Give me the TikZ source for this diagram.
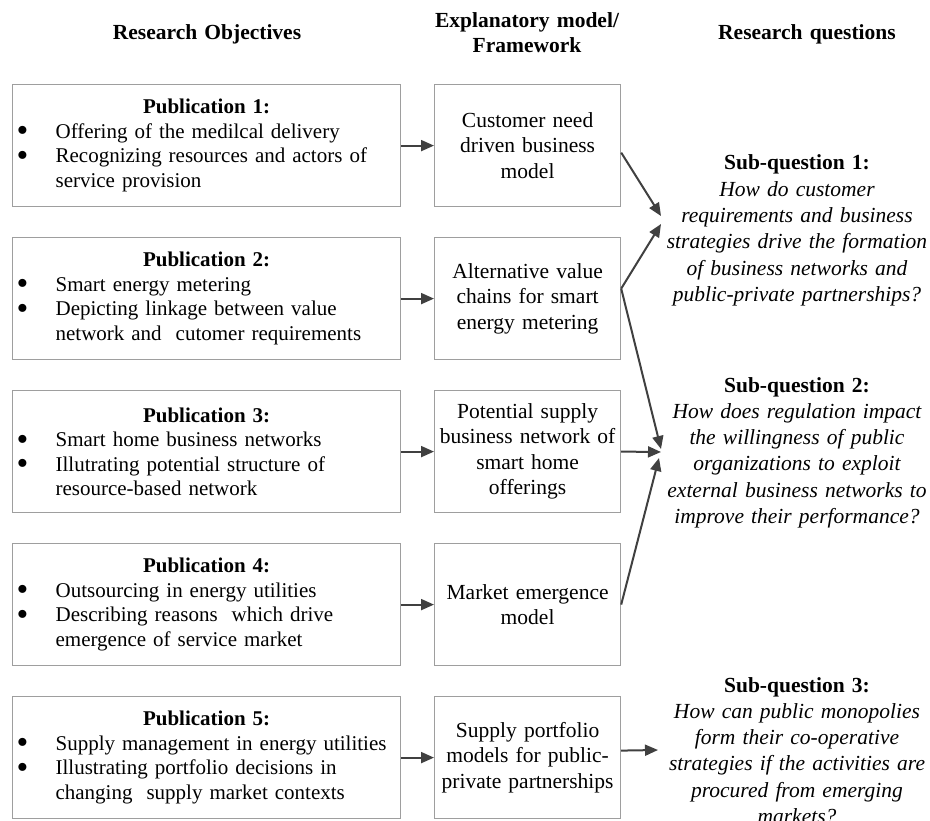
\documentclass[tikz,border=0pt]{standalone}
\usepackage{fontspec}
\setmainfont{Liberation Serif}
\usetikzlibrary{arrows.meta}

% bullet line with a hanging indent for the objective boxes
\newcommand\objbullet{\smash{\raisebox{-0.17em}{\scalebox{1.6}{\textbullet}}}}
\newcommand\objitem[1]{\par\noindent\makebox[39pt][l]{\objbullet}%
  \parbox[t]{341pt}{\raggedright #1}}
\newcommand\objtitle[1]{{\centering\bfseries #1\par}}

\tikzset{
  pubbox/.style={draw=black!38, line width=1.2pt, anchor=north west,
    minimum width=388pt, minimum height=122pt, inner xsep=4pt, inner ysep=0pt,
    text width=380pt, align=left, font=\fontsize{21}{24.5}\selectfont},
  modelbox/.style={draw=black!38, line width=1.2pt, anchor=north west,
    minimum width=186pt, minimum height=122pt, inner sep=0pt,
    text width=180pt, align=center, font=\fontsize{21.5}{25.5}\selectfont},
  head/.style={anchor=base, text width=260pt, align=center, inner sep=0pt,
    font=\fontsize{21.5}{25}\selectfont\bfseries},
  question/.style={anchor=base, text width=290pt, align=center, inner sep=0pt,
    font=\fontsize{21.5}{26.3}\selectfont\itshape},
  link/.style={draw=black!75, line width=2pt,
    -{Triangle[length=13pt,width=11pt]}},
}

\begin{document}
\begin{tikzpicture}[x=1pt, y=-1pt]
\useasboundingbox (0,0) rectangle (930,821);

% column headings
\node[head] (hobj) at (207,40) {Research Objectives};
\node[head] (hmod) at (527,28) {Explanatory model/\\Framework};
\node[head] (hque) at (807,40) {Research questions};

% research objectives
\node[pubbox] (p1) at (12,84) {\objtitle{Publication 1:}
  \objitem{Offering of the medilcal delivery}
  \objitem{Recognizing resources and actors of\\service provision}};
\node[pubbox] (p2) at (12,237) {\objtitle{Publication 2:}
  \objitem{Smart energy metering}
  \objitem{Depicting linkage between value\\network and\ \ cutomer requirements}};
\node[pubbox] (p3) at (12,390) {\objtitle{Publication 3:}
  \objitem{Smart home business networks}
  \objitem{Illutrating potential structure of\\resource-based network}};
\node[pubbox] (p4) at (12,543) {\objtitle{Publication 4:}
  \objitem{Outsourcing in energy utilities}
  \objitem{Describing reasons\ \ which drive\\emergence of service market}};
\node[pubbox] (p5) at (12,696) {\objtitle{Publication 5:}
  \objitem{Supply management in energy utilities}
  \objitem{Illustrating portfolio decisions in\\changing\ \ supply market contexts}};

% explanatory models
\node[modelbox] (m1) at (434,84) {Customer need\\driven business\\model};
\node[modelbox] (m2) at (434,237) {Alternative value\\chains for smart\\energy metering};
\node[modelbox] (m3) at (434,390) {Potential supply\\business network of\\smart home\\offerings};
\node[modelbox] (m4) at (434,543) {Market emergence\\model};
\node[modelbox] (m5) at (434,696) {Supply portfolio\\models for public-\\private partnerships};

% research questions
\node[question] (q1) at (797,170) {{\upshape\bfseries Sub-question 1:}\\How do customer\\requirements and business\\strategies drive the formation\\of business networks and\\public-private partnerships?};
\node[question] (q2) at (797,392) {{\upshape\bfseries Sub-question 2:}\\How does regulation impact\\the willingness of public\\organizations to exploit\\external business networks to\\improve their performance?};
\node[question] (q3) at (797,692) {{\upshape\bfseries Sub-question 3:}\\How can public monopolies\\form their co-operative\\strategies if the activities are\\procured from emerging\\markets?};

% meeting points of the connectors
\coordinate (j1a) at (661,216);
\coordinate (j1b) at (661,224);
\coordinate (j2a) at (661,449);
\coordinate (j2b) at (661,452);
\coordinate (j2c) at (659,458);
\coordinate (j3) at (658,750);

% objectives to models
\foreach \i in {1,...,5}
  \draw[link] (p\i.east) -- (m\i.west);

% models to questions
\draw[link] ([yshift=-7pt]m1.east) -- (j1a);
\draw[link] ([yshift=10pt]m2.east) -- (j1b);
\draw[link] ([yshift=10pt]m2.east) -- (j2a);
\draw[link] (m3.east) -- (j2b);
\draw[link] (m4.east) -- (j2c);
\draw[link] ([yshift=7pt]m5.east) -- (j3);
\end{tikzpicture}
\end{document}
